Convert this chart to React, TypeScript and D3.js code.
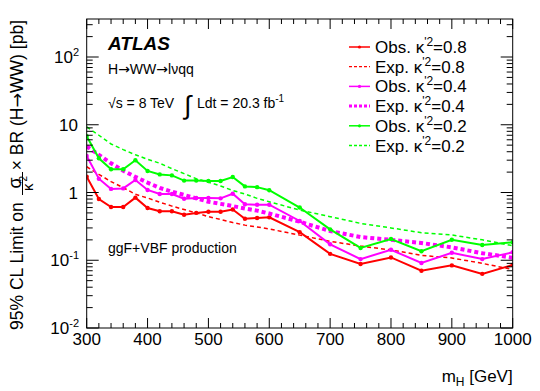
import * as d3 from 'd3';
import React from 'react';

// Higgs mass points (GeV)
const massPoints = [300, 320, 340, 360, 380, 400, 420, 440, 460, 480, 500, 520, 540, 560, 580, 600, 650, 700, 750, 800, 850, 900, 950, 1000];

const obs08 = [1.71, 0.80, 0.61, 0.61, 0.84, 0.59, 0.53, 0.53, 0.47, 0.50, 0.52, 0.52, 0.56, 0.41, 0.42, 0.43, 0.26, 0.124, 0.088, 0.110, 0.070, 0.084, 0.063, 0.085];
const exp08 = [2.40, 1.85, 1.45, 1.18, 0.94, 0.83, 0.72, 0.63, 0.56, 0.50, 0.44, 0.40, 0.36, 0.33, 0.31, 0.29, 0.235, 0.19, 0.162, 0.142, 0.118, 0.108, 0.090, 0.073];
const obs04 = [3.46, 1.60, 1.13, 1.15, 1.53, 1.09, 0.95, 0.95, 0.81, 0.83, 0.83, 0.82, 0.96, 0.67, 0.66, 0.66, 0.38, 0.172, 0.104, 0.143, 0.091, 0.129, 0.104, 0.131];
const exp04 = [4.8, 3.6, 2.7, 2.1, 1.7, 1.4, 1.17, 1.03, 0.92, 0.82, 0.73, 0.68, 0.63, 0.58, 0.54, 0.49, 0.37, 0.27, 0.22, 0.20, 0.18, 0.155, 0.127, 0.109];
const obs02 = [6.8, 3.20, 2.20, 2.20, 2.99, 2.08, 1.85, 1.79, 1.50, 1.50, 1.48, 1.48, 1.69, 1.23, 1.20, 1.08, 0.60, 0.286, 0.152, 0.206, 0.136, 0.201, 0.168, 0.184];
const exp02 = [9.3, 7.0, 5.2, 4.3, 3.6, 3.1, 2.7, 2.25, 1.9, 1.6, 1.42, 1.25, 1.07, 0.95, 0.82, 0.73, 0.55, 0.44, 0.35, 0.30, 0.255, 0.236, 0.20, 0.164];

const xTicks = [300, 400, 500, 600, 700, 800, 900, 1000];
const yDecades = [-2, -1, 0, 1, 2];

const series = [
  { label: 'Obs.', k: '0.8', values: obs08, color: '#ff0000', width: 2, dash: null, marker: true },
  { label: 'Exp.', k: '0.8', values: exp08, color: '#ff0000', width: 1.5, dash: '4,3', marker: false },
  { label: 'Obs.', k: '0.4', values: obs04, color: '#ff00ff', width: 2, dash: null, marker: true },
  { label: 'Exp.', k: '0.4', values: exp04, color: '#ff00ff', width: 4, dash: '4,3', marker: false },
  { label: 'Obs.', k: '0.2', values: obs02, color: '#00ff00', width: 2, dash: null, marker: true },
  { label: 'Exp.', k: '0.2', values: exp02, color: '#00ff00', width: 1.5, dash: '4,3', marker: false },
];

const frame = { left: 86.7, right: 512.7, top: 19, bottom: 328 };
const font = "'Liberation Sans', Arial, Helvetica, sans-serif";
const arrowFont = "'DejaVu Sans', sans-serif";

const Arrow = () => <tspan fontFamily={arrowFont}>→</tspan>;

export default function App() {
  const x = d3.scaleLinear().domain([300, 1000]).range([frame.left, frame.right]);
  const y = d3.scaleLog().domain([0.01, 364]).range([frame.bottom, frame.top]);

  const line = d3.line<number>()
    .x((d, i) => x(massPoints[i]))
    .y(d => y(d));

  const minorX = d3.range(300, 1001, 20).filter(v => v % 100 !== 0);
  const minorY: number[] = [];
  yDecades.forEach(e => {
    for (let m = 2; m <= 9; m++) {
      const v = m * Math.pow(10, e);
      if (v < 364) minorY.push(v);
    }
  });

  const supLabel = (e: number) => {
    if (e === 0) return <tspan>1</tspan>;
    if (e === 1) return <tspan>10</tspan>;
    return (<>
      <tspan>10</tspan>
      <tspan fontSize="11" dy="-7">{e}</tspan>
    </>);
  };

  return (
    <svg width={540} height={391} style={{ position: 'absolute', left: 0, top: 0, background: '#fff' }} fontFamily={font}>
      <defs>
        <clipPath id="plotClip">
          <rect x={frame.left} y={frame.top} width={frame.right - frame.left} height={frame.bottom - frame.top} />
        </clipPath>
      </defs>

      {/* data */}
      <g clipPath="url(#plotClip)">
        {series.map((s, i) => (
          <g key={i}>
            <path d={line(s.values) || ''} fill="none" stroke={s.color} strokeWidth={s.width}
              strokeDasharray={s.dash || undefined} />
            {s.marker && s.values.map((v, j) => (
              <circle key={j} cx={x(massPoints[j])} cy={y(v)} r={2.2} fill={s.color} />
            ))}
          </g>
        ))}
      </g>

      {/* frame + ticks */}
      <g stroke="#000" strokeWidth={1} fill="none">
        <rect x={frame.left} y={frame.top} width={frame.right - frame.left} height={frame.bottom - frame.top} />
        {xTicks.map(t => (
          <g key={'xt' + t}>
            <line x1={x(t)} x2={x(t)} y1={frame.bottom} y2={frame.bottom - 10} />
            <line x1={x(t)} x2={x(t)} y1={frame.top} y2={frame.top + 10} />
          </g>
        ))}
        {minorX.map(t => (
          <g key={'xm' + t}>
            <line x1={x(t)} x2={x(t)} y1={frame.bottom} y2={frame.bottom - 5} />
            <line x1={x(t)} x2={x(t)} y1={frame.top} y2={frame.top + 5} />
          </g>
        ))}
        {yDecades.map(e => (
          <g key={'yt' + e}>
            <line x1={frame.left} x2={frame.left + 12} y1={y(Math.pow(10, e))} y2={y(Math.pow(10, e))} />
            <line x1={frame.right} x2={frame.right - 12} y1={y(Math.pow(10, e))} y2={y(Math.pow(10, e))} />
          </g>
        ))}
        {minorY.map((v, i) => (
          <g key={'ym' + i}>
            <line x1={frame.left} x2={frame.left + 6} y1={y(v)} y2={y(v)} />
            <line x1={frame.right} x2={frame.right - 6} y1={y(v)} y2={y(v)} />
          </g>
        ))}
      </g>

      {/* tick labels */}
      <g fontSize="17" fill="#000">
        {xTicks.map(t => (
          <text key={'xl' + t} x={x(t)} y={345} textAnchor="middle">{t}</text>
        ))}
        {yDecades.map(e => (
          <text key={'yl' + e} x={e > 1 || e < 0 ? 79 : 78} y={y(Math.pow(10, e)) + 6} textAnchor="end">{supLabel(e)}</text>
        ))}
      </g>

      {/* axis titles */}
      <text x={frame.right} y={382} fontSize="17" textAnchor="end">
        m<tspan fontSize="12" dy="4">H</tspan><tspan dy="-4"> [GeV]</tspan>
      </text>
      <g transform="translate(23,0) rotate(-90)" fontSize="17.5">
        <text x={-330} y={0}>95% CL Limit on</text>
        <text x={-183} y={-2} fontSize="18" textAnchor="middle">σ</text>
        <line x1={-195} x2={-172} y1={-0.5} y2={-0.5} stroke="#000" strokeWidth={1} />
        <text x={-191} y={10} fontSize="15">κ<tspan fontSize="10" dy="-6">'2</tspan></text>
        <text x={-20} y={0} textAnchor="end">× BR (H<Arrow />WW) [pb]</text>
      </g>

      {/* labels */}
      <text x={108} y={50} fontSize="19" fontWeight="bold" fontStyle="italic">ATLAS</text>
      <text x={108} y={74} fontSize="14">H<Arrow />WW<Arrow />lνqq</text>
      <g fontSize="14">
        <text x={108} y={108}>√s = 8 TeV</text>
        <text x={184} y={114} fontSize="26">∫</text>
        <text x={197} y={108}>Ldt = 20.3 fb<tspan fontSize="10" dy="-6">-1</tspan></text>
      </g>
      <text x={108} y={253} fontSize="14">ggF+VBF production</text>

      {/* legend */}
      <g fontSize="17">
        {series.map((s, i) => {
          const cy = 47 + i * 19.7;
          return (
            <g key={'lg' + i}>
              <line x1={349} x2={370} y1={cy} y2={cy} stroke={s.color}
                strokeWidth={s.width === 4 ? 3 : s.width === 2 ? 1.5 : 1.3}
                strokeDasharray={s.dash ? '3,2' : undefined} />
              {s.marker && <circle cx={359.5} cy={cy} r={1.6} fill={s.color} />}
              <text x={375} y={cy + 6}>
                {s.label} κ<tspan fontSize="12" dy="-7">'2</tspan><tspan dy="7">={s.k}</tspan>
              </text>
            </g>
          );
        })}
      </g>
    </svg>
  );
}
